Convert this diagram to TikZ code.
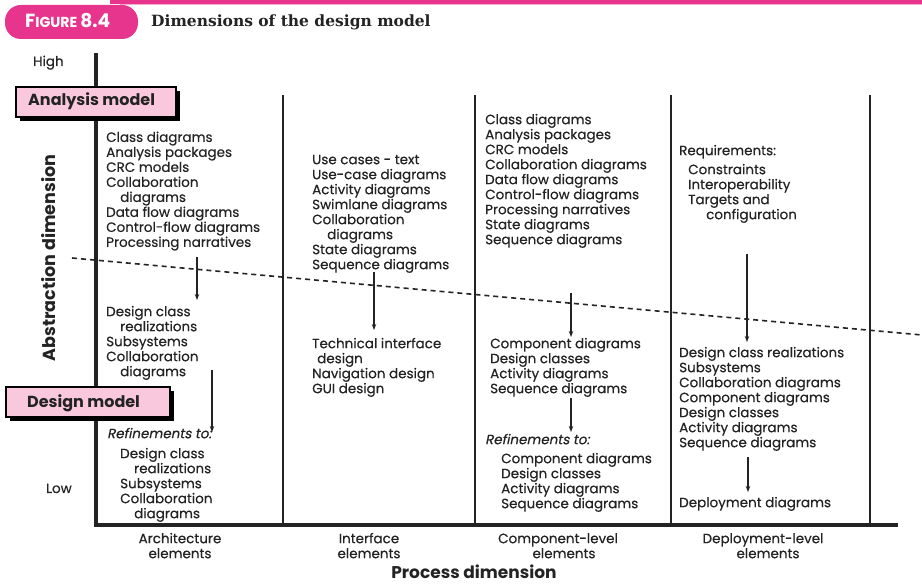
\documentclass[tikz,border=0pt]{standalone}
\usepackage{fontspec}
\setmainfont{Poppins}[AutoFakeSlant=0.2]
\newfontfamily\bodyfam{Poppins}[FakeBold=0.4, AutoFakeSlant=0.2]
\newfontfamily\titlefont{DejaVu Serif}
\usetikzlibrary{arrows.meta}
\definecolor{pinkA}{RGB}{231,52,140}
\definecolor{pinkL}{RGB}{245,170,205}
\definecolor{pinkbox}{RGB}{249,200,220}
\definecolor{ink}{RGB}{35,35,35}
\newcommand\bodyfont{\bodyfam\fontsize{13.5}{15}\selectfont}
\newcommand\boldfont{\fontsize{16}{18}\selectfont\bfseries}
\tikzset{
  txt/.style={anchor=north west, yshift=10.5pt, inner sep=0pt, align=left, font=\bodyfont, text=ink},
  axlbl/.style={anchor=north, yshift=10.5pt, inner sep=0pt, align=center, font=\bodyfont, text=ink},
  flow/.style={draw=ink, line width=1.3pt, -{Stealth[length=6pt,width=4.5pt]}},
  divider/.style={draw=ink, line width=1.8pt},
  mainaxis/.style={draw=ink, line width=3.5pt},
  modelbox/.style={draw=black, line width=1.3pt, fill=pinkbox},
  shadowbox/.style={fill=black},
}
\begin{document}
\begin{tikzpicture}[x=1pt,y=-1pt]
\useasboundingbox (0,0) rectangle (922,585);
% header
\draw[pinkA, line width=3.5pt] (110,2) -- (922,2);
\draw[pinkL, line width=1.2pt] (120,4.5) -- (922,4.5);
\fill[pinkA, rounded corners=16pt] (5,5) rectangle (138,39);
\node[anchor=base west, inner sep=0pt, text=white, font=\bfseries] (fig) at (25,28)
  {\scalebox{0.98}[1]{\fontsize{19}{19}\selectfont F\fontsize{14.5}{19}\selectfont IGURE \fontsize{19}{19}\selectfont 8.4}};
\node[anchor=base west, inner sep=0pt, text=ink, font=\titlefont\bfseries\fontsize{15.5}{18}\selectfont] (title) at (151,27)
  {Dimensions of the design model};
% axes
\draw[mainaxis] (96,53) -- (96,525) -- (898,525);
\foreach \xx/\nm in {283/d1,475/d2,671/d3,870/d4}
  \draw[divider] (\xx,95) -- (\xx,525);
% dashed boundary
\draw[ink, line width=1.6pt, dash pattern=on 5pt off 4pt] (72,258) -- (922,335);
% model boxes
\fill[shadowbox] (20,91) rectangle (180,121);
\draw[modelbox] (16,87) rectangle (176,117);
\node[anchor=base west, inner sep=0pt, font=\boldfont, text=ink] (analysis) at (28,106) {Analysis model};
\fill[shadowbox] (10,391) rectangle (174,421);
\draw[modelbox] (6,387) rectangle (170,417);
\node[anchor=base west, inner sep=0pt, font=\boldfont, text=ink] (design) at (27,408) {Design model};
% axis labels
\node[anchor=base west, inner sep=0pt, font=\bodyfont, text=ink] (high) at (33,66) {High};
\node[anchor=base west, inner sep=0pt, font=\bodyfont, text=ink] (low) at (46,493) {Low};
\node[anchor=base, inner sep=0pt, rotate=90, font=\fontsize{17.5}{20}\selectfont\bfseries, text=ink] (abs) at (55,258) {Abstraction dimension};
\node[anchor=base, inner sep=0pt, font=\fontsize{17}{20}\selectfont\bfseries, text=ink] (proc) at (474,578) {Process dimension};
% column 1: architecture
\node[txt] (a1) at (106,141.7) {\strut Class diagrams\\Analysis packages\\CRC models\\Collaboration\\\hspace*{14pt}diagrams\\Data flow diagrams\\Control-flow diagrams\\Processing narratives};
\node[txt] (a2) at (106,316) {\strut Design class\\\hspace*{14pt}realizations\\Subsystems\\Collaboration\\\hspace*{14pt}diagrams};
\node[txt] (r1) at (107,438) {\strut\itshape Refinements to:};
\node[txt] (a3) at (120,458) {\strut Design class\\\hspace*{14pt}realizations\\Subsystems\\Collaboration\\\hspace*{14pt}diagrams};
\node[axlbl] (la) at (180,543) {\strut Architecture\\elements};
% column 2: interface
\node[txt] (b1) at (312,164) {\strut Use cases - text\\Use-case diagrams\\Activity diagrams\\Swimlane diagrams\\Collaboration\\\hspace*{15pt}diagrams\\State diagrams\\Sequence diagrams};
\node[txt] (b2) at (312,348) {\strut Technical interface\\\hspace*{5pt}design\\Navigation design\\GUI design};
\node[axlbl] (lb) at (369,543) {\strut Interface\\elements};
% column 3: component
\node[txt] (c1) at (485,124) {\strut Class diagrams\\Analysis packages\\CRC models\\Collaboration diagrams\\Data flow diagrams\\Control-flow diagrams\\Processing narratives\\State diagrams\\Sequence diagrams};
\node[txt] (c2) at (490,348) {\strut Component diagrams\\Design classes\\Activity diagrams\\Sequence diagrams};
\node[txt] (r2) at (485,444) {\strut\itshape Refinements to:};
\node[txt] (c3) at (501,463) {\strut Component diagrams\\Design classes\\Activity diagrams\\Sequence diagrams};
\node[axlbl] (lc) at (558,543) {\strut Component-level\\\hspace*{12pt}elements};
% column 4: deployment
\node[txt] (d1) at (679,155) {\strut Requirements:};
\node[txt] (d1b) at (688,174) {\strut Constraints\\Interoperability\\Targets and\\\hspace*{18pt}configuration};
\node[txt] (d2) at (679,357) {\strut Design class realizations\\Subsystems\\Collaboration diagrams\\Component diagrams\\Design classes\\Activity diagrams\\Sequence diagrams};
\node[txt] (d3) at (679,507) {\strut Deployment diagrams};
\node[axlbl] (ld) at (763,543) {\strut Deployment-level\\\hspace*{10pt}elements};
% arrows
\coordinate (a1s) at (197,257); \coordinate (a2e) at (197,300);
\coordinate (a2s) at (212,370); \coordinate (r1e) at (212,432);
\coordinate (b1s) at (374,272); \coordinate (b2e) at (374,330);
\coordinate (c1s) at (571,293); \coordinate (c2e) at (571,337);
\coordinate (c2s) at (571,398); \coordinate (r2e) at (571,432);
\coordinate (d1s) at (747,254); \coordinate (d2e) at (747,342);
\coordinate (d2s) at (748,457); \coordinate (d3e) at (748,492);
\draw[flow] (a1s) -- (a2e);
\draw[flow] (a2s) -- (r1e);
\draw[flow] (b1s) -- (b2e);
\draw[flow] (c1s) -- (c2e);
\draw[flow] (c2s) -- (r2e);
\draw[flow] (d1s) -- (d2e);
\draw[flow] (d2s) -- (d3e);
\end{tikzpicture}
\end{document}
